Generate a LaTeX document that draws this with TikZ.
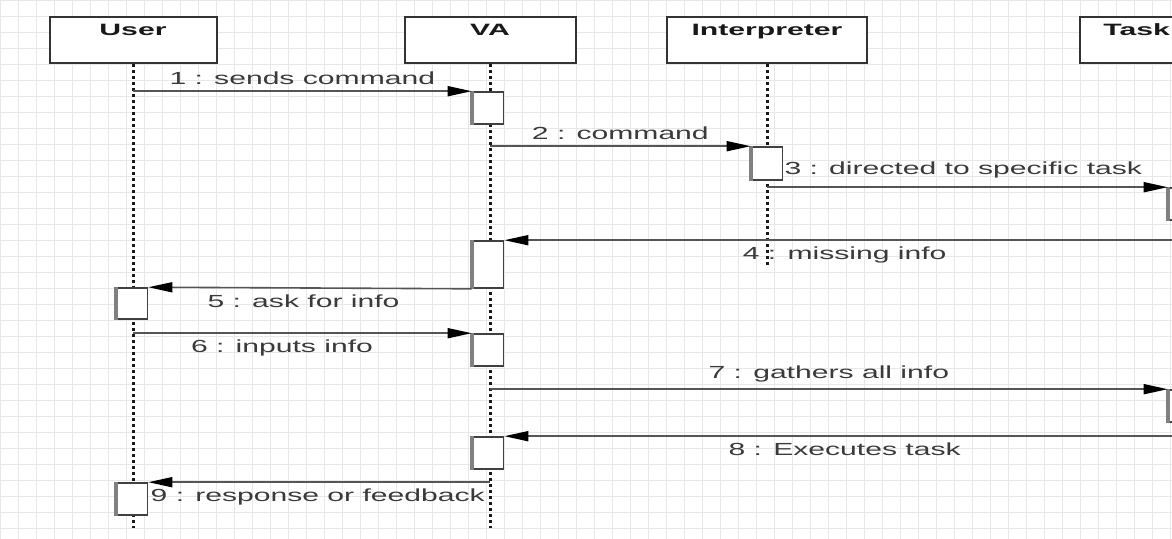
\documentclass[tikz,border=0pt]{standalone}
\usepackage{fontspec}
\usetikzlibrary{arrows.meta, positioning, calc}
\newfontfamily\msgfont[FakeStretch=1.72]{Liberation Sans}
\newfontfamily\headfont[FakeStretch=1.84]{Liberation Sans}
\definecolor{gridclr}{HTML}{E8E8E8}
\definecolor{lineclr}{HTML}{555555}
\definecolor{textclr}{HTML}{3A3A3A}

\begin{document}
\begin{tikzpicture}[
        x=0.5pt, y=-0.5pt,
        grid line/.style={line width=0.4pt, gridclr},
        head box/.style={draw=black!80, line width=1pt, fill=white, minimum height=23pt, inner sep=0pt},
        head label/.style={font=\headfont\bfseries\fontsize{8.2pt}{10pt}\selectfont, text=black!90, inner sep=0pt},
        life line/.style={line width=1.5pt, black!90, dash pattern=on 1.3pt off 1.7pt},
        act box/.style={draw=black!75, line width=0.8pt, fill=white, minimum width=15.5pt, inner sep=0pt},
        act shade/.style={line width=2pt, black!50},
        msg/.style={line width=0.8pt, lineclr, -{Triangle[length=12pt, width=5pt, color=black]}},
        msg label/.style={font=\msgfont\fontsize{8.75pt}{10pt}\selectfont, text=textclr, inner sep=1pt},
    ]

    \useasboundingbox (0,0) rectangle (1172,539);
    \clip (0,0) rectangle (1172,539);
    \fill[white] (0,0) rectangle (1172,539);

    % Background Grid
    \foreach \gx in {0,18,...,1170} {
        \draw[grid line] (\gx,0) -- (\gx,539);
    }
    \foreach \gy in {0,16,...,539} {
        \draw[grid line] (0,\gy) -- (1172,\gy);
    }

    % Lifeline heads
    \node[head box, minimum width=83.5pt] (user) at (133,40) {};
    \node[head box, minimum width=85.5pt] (va) at (490,40) {};
    \node[head box, minimum width=100pt] (interp) at (767,40) {};
    \node[head box, minimum width=105pt] (task) at (1185,40) {};

    \node[head label, anchor=base] (userlbl) at ([yshift=-10pt]user.north) {User};
    \node[head label, anchor=base] (valbl) at ([yshift=-10pt]va.north) {VA};
    \node[head label, anchor=base] (interplbl) at ([yshift=-10pt]interp.north) {Interpreter};
    \node[head label, anchor=base west] (tasklbl) at ([xshift=12pt, yshift=-10pt]task.north west) {Task};

    % Lifelines
    \draw[life line] (user.south) -- ++(0,464);
    \draw[life line] (va.south) -- ++(0,464);
    \draw[life line] (interp.south) -- ++(0,202);
    \draw[life line] (task.south) -- ++(0,464);

    % Activation boxes
    \node[act box, minimum height=16pt] (va1) at (488,108) {};
    \node[act box, minimum height=16.5pt] (ip1) at (767,163.5) {};
    \node[act box, minimum height=16pt] (ta1) at (1184,204) {};
    \node[act box, minimum height=23.5pt] (va2) at (488,264.5) {};
    \node[act box, minimum height=15.5pt] (us1) at (132,303.5) {};
    \node[act box, minimum height=16pt] (va3) at (488,350) {};
    \node[act box, minimum height=16pt] (ta2) at (1184,406) {};
    \node[act box, minimum height=16pt] (va4) at (488,453) {};
    \node[act box, minimum height=16pt] (us2) at (132,499) {};

    \foreach \a in {va1, ip1, ta1, va2, us1, va3, ta2, va4, us2} {
        \draw[act shade] (\a.north west) -- (\a.south west);
    }

    % Messages
    \draw[msg] (user.south |- va1.north west) -- (va1.north west)
        node[msg label, midway, above=2pt] (m1lbl) {1 : sends command};
    \draw[msg] (va.south |- ip1.north west) -- (ip1.north west)
        node[msg label, midway, above=2pt] (m2lbl) {2 : command};
    \draw[msg] (interp.south |- ta1.north west) -- (ta1.north west)
        node[msg label, pos=0.49, above=3pt] (m3lbl) {3 : directed to specific task};
    \draw[msg] (task.south |- va2.north east) -- (va2.north east)
        node[msg label, midway, below=2pt] (m4lbl) {4 : missing info};
    \draw[msg] (va2.south west) -- (us1.north east)
        node[msg label, pos=0.52, below=2pt] (m5lbl) {5 : ask for info};
    \draw[msg] (user.south |- va3.north west) -- (va3.north west)
        node[msg label, pos=0.44, below=2pt] (m6lbl) {6 : inputs info};
    \draw[msg] (va.south |- ta2.north west) -- (ta2.north west)
        node[msg label, midway, above=2pt] (m7lbl) {7 : gathers all info};
    \draw[msg] (task.south |- va4.north east) -- (va4.north east)
        node[msg label, midway, below=2pt] (m8lbl) {8 : Executes task};
    \draw[msg] (va.south |- us2.north east) -- (us2.north east);
    \node[msg label, anchor=north west] (m9lbl) at ([yshift=-2pt]us2.north east) {9 : response or feedback};

\end{tikzpicture}
\end{document}
